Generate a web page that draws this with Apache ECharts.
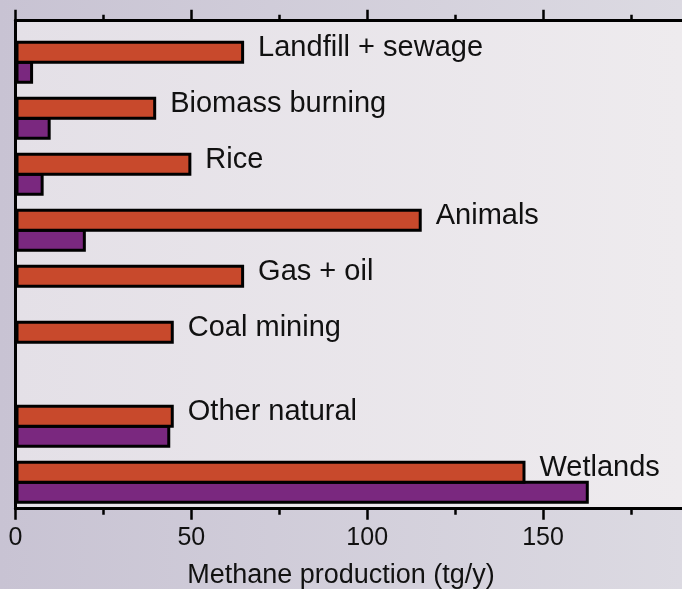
<!DOCTYPE html>
<html>
<head>
<meta charset="utf-8">
<script src="https://cdn.jsdelivr.net/npm/echarts@6/dist/echarts.min.js"></script>
<style>
  html, body { margin: 0; padding: 0; }
  #chart { width: 682px; height: 589px; }
</style>
</head>
<body>
<div id="chart"></div>
<script>
// sources, top to bottom; natural ones sit after a wider gap
const humanSources = ['Landfill + sewage', 'Biomass burning', 'Rice', 'Animals', 'Gas + oil', 'Coal mining']
const naturalSources = ['Other natural', 'Wetlands']

// orange (upper) and purple (lower) bars, tg/y
const orangeValues = [65, 40, 50, 115.5, 65, 45, 45, 145]
const purpleValues = [5, 10, 8, 20, null, null, 44, 163]

// x axis: the plot runs off the right edge of the picture
const xMin = 0
const xMax = 189.5
const majorTicks = [0, 50, 100, 150]
const minorTicks = [25, 75, 125, 175]

// category slots: one empty slot between sources, two between the groups
const slots = ['']
const orangeData = [null]
const purpleData = [null]
const allSources = humanSources.concat(naturalSources)
allSources.forEach((name, i) => {
  if (i > 0) {
    slots.push(''); orangeData.push(null); purpleData.push(null)
  }
  if (i === humanSources.length) {
    slots.push(''); orangeData.push(null); purpleData.push(null)
  }
  slots.push(name)
  orangeData.push(orangeValues[i])
  purpleData.push(purpleValues[i])
})

const font = 'Liberation Sans, Arial, Helvetica, sans-serif'
const black = '#000'
const barWidth = 23   // echarts draws the border inside the bar
const barStep = 20    // purple sits one bar lower, sharing the border

function tickAxis (gridIndex, position, ticks, tickLength, labels) {
  return {
    gridIndex,
    type: 'value',
    position,
    min: xMin,
    max: xMax,
    axisLine: { show: true, lineStyle: { color: black, width: 3 } },
    axisTick: { show: true, inside: false, length: tickLength, customValues: ticks, lineStyle: { color: black, width: 2.5 } },
    splitLine: { show: false },
    axisLabel: labels
      ? { show: true, customValues: ticks, margin: 17, fontFamily: font, fontSize: 25, color: '#111' }
      : { show: false }
  }
}

const chart = echarts.init(document.getElementById('chart'))

const option = {
  animation: false,
  backgroundColor: {
    type: 'linear', x: 0, y: 0, x2: 1, y2: 0,
    colorStops: [
      { offset: 0, color: '#c8c3d3' },
      { offset: 1, color: '#dcdae2' }
    ]
  },
  title: {
    text: 'Methane production (tg/y)',
    left: 'center',
    top: 562,
    padding: 0,
    textStyle: { fontFamily: font, fontSize: 27, fontWeight: 'normal', color: '#111' }
  },
  grid: [
    // orange bars (slot centres on the orange bars)
    { left: 15.5, right: 0, top: 10.3, height: 476 },
    // frame with background and major ticks
    {
      left: 15.5, right: 0, top: 20.7, bottom: 80.3,
      show: true, borderWidth: 0,
      backgroundColor: {
        type: 'linear', x: 0, y: 0, x2: 1, y2: 0,
        colorStops: [
          { offset: 0, color: '#e4e0e7' },
          { offset: 1, color: '#eeebee' }
        ]
      }
    },
    // same frame, minor ticks
    { left: 15.5, right: 0, top: 20.7, bottom: 80.3 },
    // purple bars
    { left: 15.5, right: 0, top: 10.3 + barStep, height: 476 }
  ],
  xAxis: [
    { gridIndex: 0, type: 'value', min: xMin, max: xMax, show: false },
    tickAxis(1, 'bottom', majorTicks, 11, true),
    tickAxis(1, 'top', majorTicks, 11, false),
    tickAxis(2, 'bottom', minorTicks, 6, false),
    tickAxis(2, 'top', minorTicks, 6, false),
    { gridIndex: 3, type: 'value', min: xMin, max: xMax, show: false }
  ],
  yAxis: [
    { gridIndex: 0, type: 'category', data: slots, inverse: true, show: false },
    {
      gridIndex: 1, type: 'value', min: 0, max: 1,
      axisLine: { show: true, lineStyle: { color: black, width: 3 } },
      axisTick: { show: false },
      axisLabel: { show: false },
      splitLine: { show: false }
    },
    { gridIndex: 2, type: 'value', min: 0, max: 1, show: false },
    { gridIndex: 3, type: 'category', data: slots, inverse: true, show: false }
  ],
  series: [
    {
      name: 'purple',
      type: 'bar',
      xAxisIndex: 5,
      yAxisIndex: 3,
      barWidth,
      data: purpleData,
      itemStyle: { color: '#7a287f', borderColor: black, borderWidth: 3 }
    },
    {
      name: 'orange',
      type: 'bar',
      xAxisIndex: 0,
      yAxisIndex: 0,
      barWidth,
      data: orangeData,
      itemStyle: { color: '#c8492c', borderColor: black, borderWidth: 3 },
      label: {
        show: true,
        position: 'right',
        distance: 14,
        offset: [0, -4],
        formatter: p => p.name,
        fontFamily: font,
        fontSize: 29,
        color: '#111'
      }
    }
  ]
}

chart.setOption(option)
</script>
</body>
</html>
